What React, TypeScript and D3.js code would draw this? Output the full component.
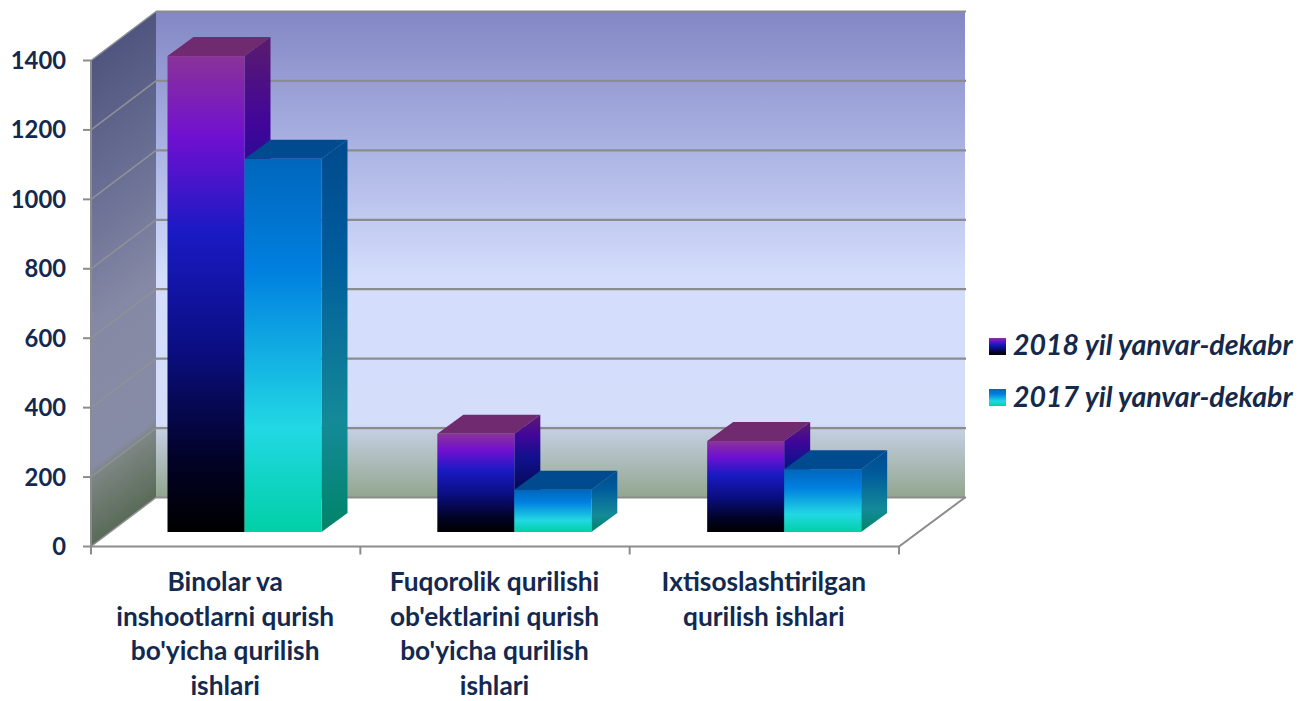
import React from "react";
import * as d3 from "d3";

const categories = [
  ["Binolar va", "inshootlarni qurish", "bo'yicha qurilish", "ishlari"],
  ["Fuqorolik qurilishi", "ob'ektlarini qurish", "bo'yicha qurilish", "ishlari"],
  ["Ixtisoslashtirilgan", "qurilish ishlari"],
];
const values2018 = [1371, 283, 262];
const values2017 = [1075, 122, 181];
const yTicks = [0, 200, 400, 600, 800, 1000, 1200, 1400];
const legendLabels = ["2018 yil yanvar-dekabr", "2017 yil yanvar-dekabr"];

const W = 1307, H = 701;
const y = d3.scaleLinear().domain([0, 1400]).range([546.5, 60.5]);
const x = d3.scaleLinear().domain([0, 3]).range([91, 899]);
const backDx = 65, backDy = -49;
const barBase = 532, barDx = 26, barDy = -19, barW = 77;
const firstBar = 167.5;
const groupStep = x(1) - x(0);
const path = d3.line();
const TEXT = "#13294f";

const poly = (pts: [number, number][]) => path(pts)! + "Z";

function Stops({ list }: { list: [number, string][] }) {
  return <>{list.map(([o, c]) => <stop key={o} offset={o} stopColor={c} />)}</>;
}

const front18: [number, string][] = [[0, "#8a3399"], [0.17, "#7010d0"], [0.37, "#1a1ac4"], [0.62, "#0a0e80"], [0.85, "#020226"], [1, "#000000"]];
const front17: [number, string][] = [[0, "#0066bc"], [0.3, "#0080e0"], [0.72, "#22d8e4"], [1, "#00d0a6"]];
const side18: [number, string][] = [[0, "#5a1c6c"], [0.17, "#42069a"], [0.37, "#10108c"], [0.62, "#060a5c"], [0.85, "#02021c"], [1, "#000000"]];
const side17: [number, string][] = [[0, "#004a8c"], [0.3, "#005c9c"], [0.72, "#148a98"], [1, "#008468"]];

function Bar({ left, value, id, top }: { left: number; value: number; id: string; top: string }) {
  const t = barBase - (y(0) - y(value));
  const r = left + barW;
  return (
    <g>
      <path d={poly([[left, t], [left + barDx, t + barDy], [r + barDx, t + barDy], [r, t]])} fill={top} />
      <path d={poly([[r, t], [r + barDx, t + barDy], [r + barDx, barBase + barDy], [r, barBase]])} fill={`url(#side${id})`} />
      <rect x={left} y={t} width={barW} height={barBase - t} fill={`url(#front${id})`} />
    </g>
  );
}

export default function App() {
  const ax = "#8c8c8c";
  const wallAx = "#8f9296";
  const backRight = x(3) + backDx + 1;
  return (
    <svg width={W} height={H} style={{ position: "absolute", left: 0, top: 0, background: "#fff" }} fontFamily="Lato, Carlito, sans-serif">
      <defs>
        <linearGradient id="back" x1="0" y1="0" x2="0" y2="1">
          <Stops list={[[0, "#8387c4"], [0.25, "#a6aee0"], [0.55, "#d4defc"], [0.85, "#d4defb"], [0.86, "#c4cfe2"], [1, "#92a68e"]]} />
        </linearGradient>
        <linearGradient id="wall" gradientUnits="userSpaceOnUse" x1={91} y1={60} x2={324} y2={371}>
          <Stops list={[[0, "#50557f"], [0.3, "#6b7095"], [0.55, "#8589a5"], [0.84, "#878ca6"], [0.86, "#7d8684"], [1, "#5a6b58"]]} />
        </linearGradient>
        <linearGradient id="front18" x1="0" y1="0" x2="0" y2="1"><Stops list={front18} /></linearGradient>
        <linearGradient id="front17" x1="0" y1="0" x2="0" y2="1"><Stops list={front17} /></linearGradient>
        <linearGradient id="side18" x1="0" y1="0" x2="0" y2="1"><Stops list={side18} /></linearGradient>
        <linearGradient id="side17" x1="0" y1="0" x2="0" y2="1"><Stops list={side17} /></linearGradient>
      </defs>

      <path d={poly([[x(0) + backDx, y(1400) + backDy], [backRight, y(1400) + backDy], [backRight, y(0) + backDy], [x(0) + backDx, y(0) + backDy]])} fill="url(#back)" />
      <path d={poly([[x(0), y(1400)], [x(0) + backDx, y(1400) + backDy], [x(0) + backDx, y(0) + backDy], [x(0), y(0)]])} fill="url(#wall)" />

      {yTicks.map((t) => (
        <g key={t}>
          <path d={path([[x(0), y(t)], [x(0) + backDx, y(t) + backDy]])!} stroke={wallAx} strokeWidth={1.5} fill="none" />
          <path d={path([[x(0) + backDx, y(t) + backDy], [backRight + 1, y(t) + backDy]])!} stroke={ax} strokeWidth={2.2} fill="none" />
          <line x1={x(0) - 8} x2={x(0)} y1={y(t)} y2={y(t)} stroke={ax} strokeWidth={2} />
          <text x={66} y={y(t) + 8.5} textAnchor="end" fontSize={23.8} fontWeight={700} fill={TEXT}>{t}</text>
        </g>
      ))}
      <line x1={x(0)} x2={x(0)} y1={y(1400)} y2={y(0)} stroke={ax} strokeWidth={2} />
      <path d={path([[x(0), y(0)], [x(3), y(0)], [backRight, y(0) + backDy]])!} stroke={ax} strokeWidth={2} fill="none" />
      {[0, 1, 2, 3].map((i) => (
        <line key={i} x1={x(i)} x2={x(i)} y1={y(0)} y2={y(0) + 8} stroke={ax} strokeWidth={2} />
      ))}

      {categories.map((_, i) => {
        const left = firstBar + i * (groupStep + 0.5);
        return (
          <g key={i}>
            <Bar left={left} value={values2018[i]} id="18" top="#702b70" />
            <Bar left={left + barW} value={values2017[i]} id="17" top="#004a90" />
          </g>
        );
      })}

      {categories.map((lines, i) => (
        <text key={i} textAnchor="middle" fontSize={26.3} fontWeight={700} fill={TEXT}>
          {lines.map((l, j) => (
            <tspan key={j} x={x(i) + groupStep / 2 - 0.5} y={591 + j * 34.5}>{l}</tspan>
          ))}
        </text>
      ))}

      {legendLabels.map((l, i) => (
        <g key={l}>
          <rect x={989} y={338 + i * 51} width={17} height={17} fill={`url(#front${i === 0 ? "18" : "17"})`} />
          <text x={1013} y={355 + i * 52} fontSize={28.5} fontWeight={700} fontStyle="italic" fill="#15294a">{l}</text>
        </g>
      ))}
    </svg>
  );
}
